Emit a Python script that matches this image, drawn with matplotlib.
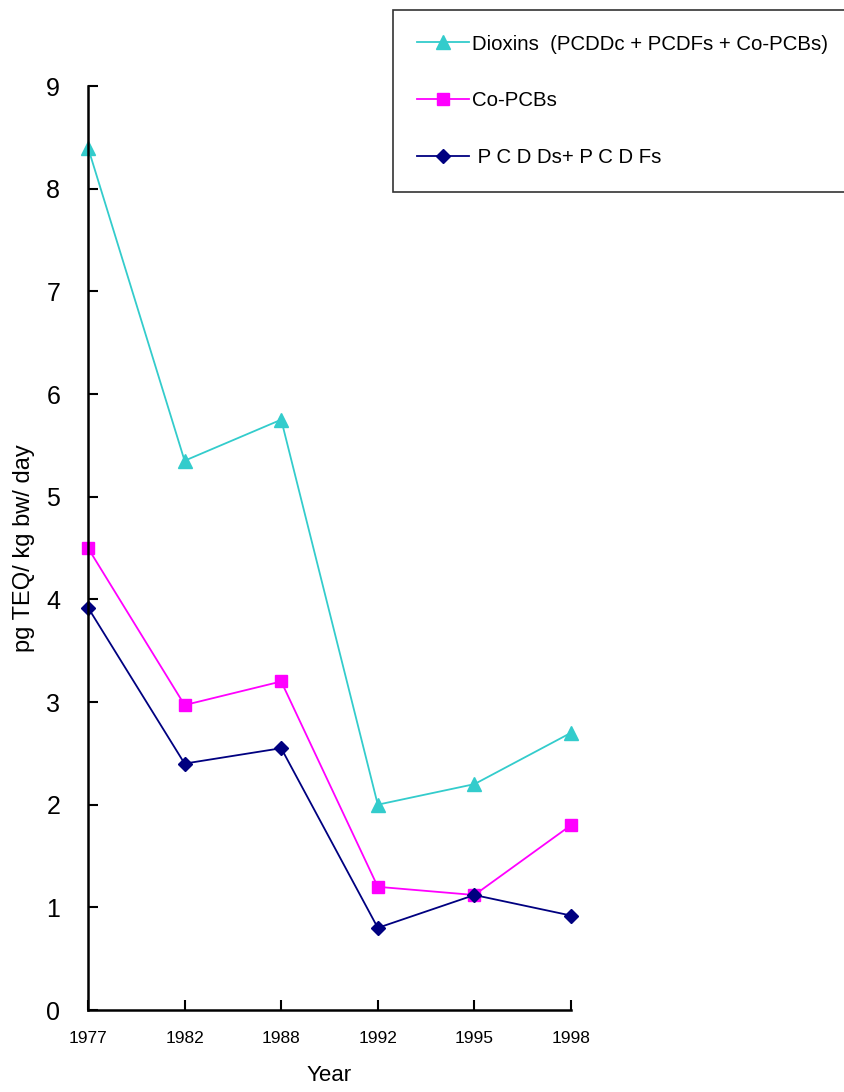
import matplotlib.pyplot as plt
from matplotlib.ticker import MultipleLocator
import numpy as np

plt.rcParams['font.family'] = ['Liberation Sans', 'DejaVu Sans']

years = ['1977', '1982', '1988', '1992', '1995', '1998']
dioxins = [8.4, 5.35, 5.75, 2.0, 2.2, 2.7]
co_pcbs = [4.5, 2.97, 3.2, 1.2, 1.12, 1.8]
pcdds_pcdfs = [3.92, 2.4, 2.55, 0.8, 1.12, 0.92]

x = np.arange(len(years))

fig = plt.figure(figsize=(8.45, 10.92), dpi=100)
ax = fig.add_axes([88/845, 1 - 1010/1092, (571-88)/845, (1010-86)/1092])

ax.plot(x, dioxins, color='#33CCCC', marker='^', markersize=10, lw=1.3,
        label='Dioxins  (PCDDc + PCDFs + Co-PCBs)')
ax.plot(x, co_pcbs, color='#FF00FF', marker='s', markersize=9, lw=1.3,
        label='Co-PCBs')
ax.plot(x, pcdds_pcdfs, color='#000080', marker='D', markersize=7, lw=1.3,
        label=' P C D Ds+ P C D Fs')

ax.set_xlim(0, len(years) - 1)
ax.set_ylim(0, 9)
ax.yaxis.set_major_locator(MultipleLocator(1))
ax.set_xticks(x)
ax.set_xticklabels(years, fontsize=12.5)
ax.tick_params(axis='y', direction='in', length=7, width=1.5, labelsize=18, pad=20)
ax.tick_params(axis='x', direction='in', length=7, width=1.5, pad=15)
ax.spines['top'].set_visible(False)
ax.spines['right'].set_visible(False)
for s in ['left', 'bottom']:
    ax.spines[s].set_linewidth(1.8)
for ln in ax.lines:
    ln.set_clip_on(False)

ax.set_ylabel('pg TEQ/ kg bw/ day', fontsize=17, labelpad=8)
ax.set_xlabel('Year', fontsize=16, labelpad=14)

leg = fig.legend(loc='upper left',
                 bbox_to_anchor=(393/845, 1 - 190/1092, 452/845, 180/1092),
                 mode='expand', fontsize=14.7, frameon=True, fancybox=False,
                 handlelength=2.5, labelspacing=1.85, borderpad=1.2,
                 handletextpad=0.15, borderaxespad=0)
leg.get_frame().set_edgecolor('black')
leg.get_frame().set_linewidth(1.2)

fig.savefig('out.png', dpi=100)
